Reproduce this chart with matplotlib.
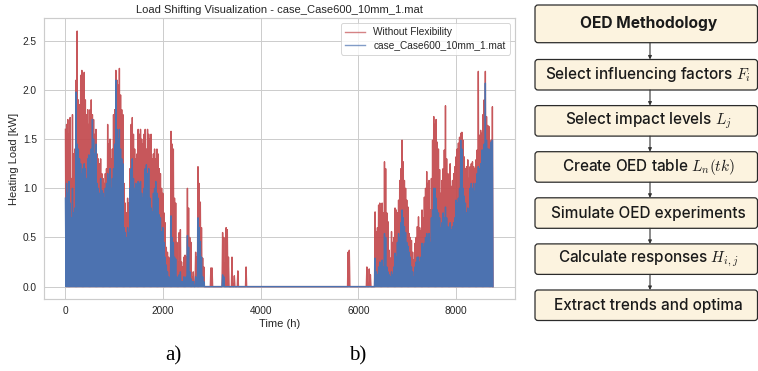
import numpy as np
import matplotlib
matplotlib.use("Agg")
import matplotlib.pyplot as plt
from matplotlib.patches import FancyBboxPatch

# ---------------- data (daily peak heating load, kW) ----------------
red_peak = [  # Without Flexibility
    1.60, 1.65, 1.70, 1.55, 1.72, 1.10, 1.75, 1.35, 1.40, 2.10,
    2.60, 1.90, 1.85, 2.15, 2.20, 2.10, 2.18, 1.90, 1.75, 1.80,
    1.65, 1.80, 1.90, 1.75, 1.70, 1.55, 1.60, 1.35, 1.30, 1.25,
    1.30, 1.15, 1.10, 1.05, 1.15, 1.20, 1.65, 1.45, 1.50, 1.30,
    1.40, 1.75, 1.80, 2.20, 2.10, 2.05, 2.22, 1.95, 1.80, 1.75,
    1.05, 0.85, 0.75, 0.90, 0.85, 1.20, 1.65, 1.72, 1.55, 1.40,
    1.30, 1.35, 1.60, 1.55, 1.60, 1.50, 1.45, 1.55, 1.60, 1.40,
    1.60, 1.55, 1.50, 1.55, 1.30, 1.35, 1.40, 1.30, 1.40, 1.35,
    1.20, 1.15, 1.00, 0.95, 0.75, 0.65, 0.40, 0.35, 0.30, 0.28,
    1.58, 1.45, 1.40, 0.90, 0.85, 0.45, 0.25, 0.55, 0.58, 0.25,
    0.20, 0.30, 0.32, 0.30, 1.00, 0.80, 0.50, 0.45, 0.10, 0.15,
    0.05, 0.35, 0.30, 1.22, 1.05, 0.86, 0.60, 0.29, 0.20, 0.00,
    0.00, 0.00, 0.00, 0.00, 0.19, 0.19, 0.00, 0.00, 0.00, 0.00,
    0.00, 0.00, 0.00, 0.00, 0.55, 0.50, 0.24, 0.60, 0.58, 0.30,
    0.00, 0.00, 0.30, 0.00, 0.11, 0.00, 0.00, 0.16, 0.00, 0.00,
    0.00, 0.00, 0.00, 0.00, 0.20, 0.00, 0.00, 0.00, 0.00, 0.00,
    0, 0, 0, 0, 0, 0, 0, 0, 0, 0,
    0, 0, 0, 0, 0, 0, 0, 0, 0, 0,
    0, 0, 0, 0, 0, 0, 0, 0, 0, 0,
    0, 0, 0, 0, 0, 0, 0, 0, 0, 0,
    0, 0, 0, 0, 0, 0, 0, 0, 0, 0,
    0, 0, 0, 0, 0, 0, 0, 0, 0, 0,
    0, 0, 0, 0, 0, 0, 0, 0, 0, 0,
    0, 0, 0, 0, 0, 0, 0, 0, 0, 0,
    0.00, 0.35, 0.37, 0.00, 0.00, 0.00, 0.00, 0.00, 0.00, 0.00,
    0.00, 0.00, 0.00, 0.00, 0.00, 0.00, 0.00, 0.20, 0.00, 0.18,
    0.12, 0.00, 0.00, 0.00, 0.76, 0.56, 0.60, 0.83, 0.85, 0.80,
    0.85, 0.75, 1.27, 1.20, 0.75, 0.66, 0.37, 0.29, 0.56, 0.45,
    0.50, 0.80, 0.78, 0.75, 0.88, 1.08, 1.20, 1.49, 1.27, 1.08,
    1.00, 0.88, 0.81, 0.54, 0.50, 0.47, 0.35, 0.27, 0.44, 0.50,
    0.61, 0.71, 0.60, 0.57, 0.78, 0.70, 0.91, 1.00, 1.17, 1.05,
    1.08, 0.78, 1.10, 1.49, 1.73, 1.65, 1.70, 1.47, 1.40, 1.19,
    0.95, 1.08, 1.20, 1.39, 1.84, 1.30, 1.15, 1.05, 1.25, 1.02,
    1.08, 1.15, 1.22, 1.32, 1.40, 1.46, 1.52, 1.56, 1.57, 1.49,
    1.32, 1.20, 1.22, 1.29, 1.10, 1.22, 1.25, 1.27, 1.22, 1.20,
    1.29, 1.39, 2.19, 1.54, 1.59, 1.56, 1.75, 1.90, 2.19, 1.73,
    1.64, 1.63, 1.40, 1.49, 1.83,
]

blue_peak = [  # case_Case600_10mm_1.mat
    0.90, 1.05, 0.95, 1.07, 0.85, 0.70, 1.00, 0.75, 0.80, 1.98,
    1.45, 1.40, 1.30, 1.25, 1.15, 1.20, 1.25, 1.20, 1.10, 1.30,
    1.34, 1.25, 1.40, 1.70, 1.50, 1.35, 1.45, 1.05, 1.00, 0.95,
    1.10, 0.98, 0.95, 0.90, 1.00, 1.05, 1.15, 1.10, 1.20, 1.00,
    1.10, 1.20, 1.45, 2.10, 1.60, 1.50, 1.60, 1.40, 1.30, 1.25,
    0.60, 0.55, 0.50, 0.60, 0.55, 1.00, 1.20, 1.30, 1.10, 1.00,
    1.05, 1.00, 1.07, 1.05, 1.07, 0.95, 0.90, 1.00, 1.20, 1.24,
    1.15, 1.20, 0.90, 0.80, 0.76, 0.95, 1.00, 1.07, 0.95, 0.90,
    0.73, 0.70, 0.56, 0.60, 0.45, 0.30, 0.22, 0.15, 0.10, 0.08,
    0.72, 0.50, 0.45, 0.30, 0.28, 0.10, 0.08, 0.12, 0.15, 0.05,
    0.05, 0.10, 0.08, 0.10, 0.52, 0.40, 0.15, 0.08, 0.05, 0.05,
    0.00, 0.10, 0.08, 0.70, 0.60, 0.46, 0.30, 0.10, 0.05, 0.00,
    0, 0, 0, 0, 0, 0, 0, 0, 0, 0,
    0.00, 0.00, 0.00, 0.00, 0.12, 0.10, 0.00, 0.00, 0.00, 0.00,
    0, 0, 0, 0, 0, 0, 0, 0, 0, 0,
    0, 0, 0, 0, 0, 0, 0, 0, 0, 0,
    0, 0, 0, 0, 0, 0, 0, 0, 0, 0,
    0, 0, 0, 0, 0, 0, 0, 0, 0, 0,
    0, 0, 0, 0, 0, 0, 0, 0, 0, 0,
    0, 0, 0, 0, 0, 0, 0, 0, 0, 0,
    0, 0, 0, 0, 0, 0, 0, 0, 0, 0,
    0, 0, 0, 0, 0, 0, 0, 0, 0, 0,
    0, 0, 0, 0, 0, 0, 0, 0, 0, 0,
    0, 0, 0, 0, 0, 0, 0, 0, 0, 0,
    0, 0, 0, 0, 0, 0, 0, 0, 0, 0,
    0, 0, 0, 0, 0, 0, 0, 0, 0, 0,
    0.00, 0.00, 0.00, 0.00, 0.29, 0.15, 0.12, 0.20, 0.25, 0.22,
    0.27, 0.20, 0.54, 0.50, 0.20, 0.15, 0.12, 0.10, 0.15, 0.12,
    0.20, 0.34, 0.30, 0.45, 0.54, 0.50, 0.65, 0.78, 0.70, 0.61,
    0.55, 0.45, 0.41, 0.35, 0.30, 0.20, 0.15, 0.10, 0.20, 0.25,
    0.30, 0.30, 0.25, 0.30, 0.44, 0.40, 0.44, 0.50, 0.54, 0.50,
    0.54, 0.45, 0.70, 0.78, 1.00, 1.00, 0.90, 0.78, 0.75, 0.70,
    0.60, 0.65, 0.75, 0.70, 0.81, 0.70, 0.61, 0.60, 0.65, 0.58,
    0.61, 0.65, 0.70, 0.88, 0.85, 0.90, 1.00, 1.49, 1.40, 1.00,
    0.92, 0.85, 0.75, 0.80, 0.75, 1.00, 1.05, 1.00, 1.05, 0.97,
    1.05, 1.15, 1.22, 1.20, 1.25, 1.39, 1.39, 1.45, 2.07, 1.49,
    1.40, 1.40, 1.37, 1.47, 1.49,
]

night_low = 0.0  # load between daily peaks

series_labels = ["Without Flexibility", "case_Case600_10mm_1.mat"]
x_ticks = [0, 2000, 4000, 6000, 8000]
y_ticks = [0.0, 0.5, 1.0, 1.5, 2.0, 2.5]

steps = [
    "OED Methodology",
    r"Select influencing factors $F_i$",
    r"Select impact levels $L_j$",
    r"Create OED table $L_n(tk)$",
    "Simulate OED experiments",
    r"Calculate responses $H_{i,j}$",
    "Extract trends and optima",
]

# ---------------- style ----------------
plt.rcParams.update({
    "font.family": ["Liberation Sans", "DejaVu Sans"],
    "mathtext.fontset": "cm",
    "axes.edgecolor": "0.8",
    "axes.linewidth": 0.85,
    "grid.color": "0.8",
    "grid.linewidth": 0.7,
    "text.color": "0.15",
    "axes.labelcolor": "0.15",
    "xtick.color": "0.15",
    "ytick.color": "0.15",
    "xtick.major.size": 0,
    "ytick.major.size": 0,
    "xtick.major.pad": 5,
    "ytick.major.pad": 5,
})

RED = "#c44e52"
BLUE = "#4c72b0"

fig = plt.figure(figsize=(7.58, 3.71), dpi=100)
ax = fig.add_axes([0.0577, 0.193, 0.6213, 0.7577])

n = len(red_peak)
days = np.arange(n)
t = np.empty(2 * n)
t[0::2] = days * 24 + 6
t[1::2] = days * 24 + 18
yr = np.empty(2 * n)
yr[0::2] = red_peak
yr[1::2] = night_low
yb = np.empty(2 * n)
yb[0::2] = blue_peak
yb[1::2] = night_low

ax.plot(t, yr, color=RED, lw=1.0, alpha=0.95, label=series_labels[0])
ax.plot(t, yb, color=BLUE, lw=1.0, alpha=1.0, label=series_labels[1])

ax.set_xlim(-438, 9198)
ax.set_ylim(-0.13, 2.73)
ax.set_xticks(x_ticks)
ax.set_yticks(y_ticks)
ax.set_yticklabels([f"{v:.1f}" for v in y_ticks])
ax.tick_params(labelsize=7.3)
ax.grid(True)
ax.set_axisbelow(True)
ax.set_title("Load Shifting Visualization - case_Case600_10mm_1.mat", fontsize=8, pad=4)
ax.set_xlabel("Time (h)", fontsize=8, labelpad=2)
ax.set_ylabel("Heating Load [kW]", fontsize=8, labelpad=3)
leg = ax.legend(loc="upper right", fontsize=7.3, frameon=True, fancybox=True,
                borderpad=0.4, handlelength=2.0, labelspacing=0.3)
leg.get_frame().set_edgecolor("0.8")
leg.get_frame().set_linewidth(0.7)
for lh in leg.get_lines():
    lh.set_alpha(0.7)

# ---------------- flowchart ----------------
ov = fig.add_axes([0, 0, 1, 1])
ov.set_xlim(0, 758)
ov.set_ylim(371, 0)
ov.axis("off")
ov.patch.set_alpha(0)

bx0, bx1 = 535, 757.5
tops = [5.0] + [59.5 + 46.1 * k for k in range(6)]
heights = [37.7] + [30.5] * 6
for i, (lab, top, h) in enumerate(zip(steps, tops, heights)):
    box = FancyBboxPatch((bx0 + 2, top + 2), bx1 - bx0 - 4, h - 4,
                         boxstyle="round,pad=2,rounding_size=3",
                         fc="#fcf3df", ec="#2b2b2b", lw=0.9)
    ov.add_patch(box)
    ov.text((bx0 + bx1) / 2 + 2, top + h / 2, lab, ha="center", va="center",
            fontsize=11.2 if i == 0 else 11.0,
            fontweight="bold" if i == 0 else "medium",
            family=["Inter", "DejaVu Sans"], color="#1a1a1a")
    if i < len(steps) - 1:
        ov.annotate("", xy=(650, tops[i + 1]), xytext=(650, top + h),
                    arrowprops=dict(arrowstyle="-|>", color="#333333", lw=0.8,
                                    mutation_scale=5, shrinkA=0, shrinkB=0))

ov.text(173, 356, "a)", ha="center", va="center", fontsize=15,
        family=["Liberation Serif"], color="black")
ov.text(358, 356, "b)", ha="center", va="center", fontsize=15,
        family=["Liberation Serif"], color="black")

fig.savefig("out.png", dpi=100)
